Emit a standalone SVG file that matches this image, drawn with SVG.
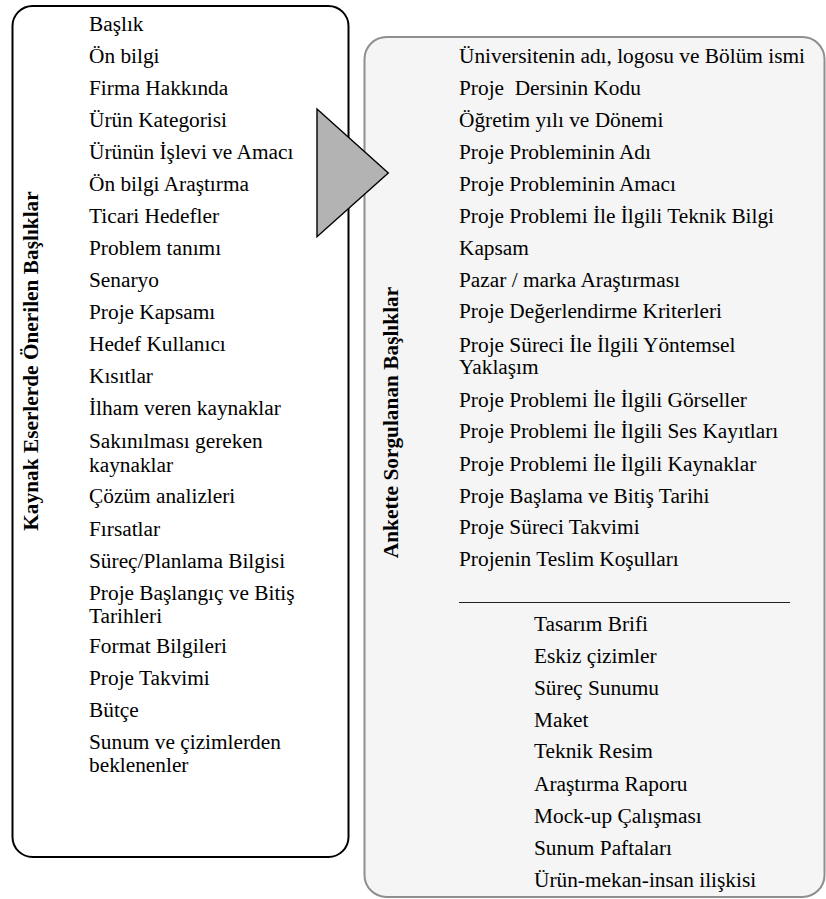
<svg xmlns="http://www.w3.org/2000/svg" width="826" height="899" viewBox="0 0 826 899" font-family="'Times New Roman', 'Liberation Serif', serif" font-size="21.33">
<style>
  text { font-family: "Times New Roman", "Liberation Serif", serif; font-size: 21.33px; fill: #000; }
  .lbl { font-weight: bold; text-anchor: middle; }
  .boxL { fill: #ffffff; stroke: #000; stroke-width: 2; }
  .boxR { fill: #f5f5f5; stroke: #8f8f8f; stroke-width: 2; }
  .arrow { fill: #b3b3b3; stroke: #000; stroke-width: 1.4; stroke-linejoin: miter; }
</style>
<rect width="826" height="899" fill="#ffffff"/>

<g id="node-left">
  <rect class="boxL" x="12.5" y="6" width="336" height="851" rx="20" ry="20"/>
  <text class="lbl" transform="translate(37.5,361) rotate(-90)">Kaynak Eserlerde Önerilen Başlıklar</text>
  <text x="89" y="31">Başlık</text>
  <text x="89" y="63">Ön bilgi</text>
  <text x="89" y="95">Firma Hakkında</text>
  <text x="89" y="127">Ürün Kategorisi</text>
  <text x="89" y="159">Ürünün İşlevi ve Amacı</text>
  <text x="89" y="191">Ön bilgi Araştırma</text>
  <text x="89" y="223">Ticari Hedefler</text>
  <text x="89" y="255">Problem tanımı</text>
  <text x="89" y="287">Senaryo</text>
  <text x="89" y="319">Proje Kapsamı</text>
  <text x="89" y="351">Hedef Kullanıcı</text>
  <text x="89" y="383">Kısıtlar</text>
  <text x="89" y="415">İlham veren kaynaklar</text>
  <text x="89" y="447.5">Sakınılması gereken</text>
  <text x="89" y="471.5">kaynaklar</text>
  <text x="89" y="503.3">Çözüm analizleri</text>
  <text x="89" y="535.5">Fırsatlar</text>
  <text x="89" y="567.5">Süreç/Planlama Bilgisi</text>
  <text x="89" y="599.5">Proje Başlangıç ve Bitiş</text>
  <text x="89" y="622.5">Tarihleri</text>
  <text x="89" y="653.3">Format Bilgileri</text>
  <text x="89" y="685">Proje Takvimi</text>
  <text x="89" y="717">Bütçe</text>
  <text x="89" y="748.5">Sunum ve çizimlerden</text>
  <text x="89" y="772">beklenenler</text>
</g>

<g id="node-right">
  <rect class="boxR" x="364.5" y="37" width="460" height="860" rx="22" ry="22"/>
  <text class="lbl" transform="translate(398,422.5) rotate(-90)">Ankette Sorgulanan Başlıklar</text>
  <text x="459" y="62.7">Üniversitenin adı, logosu ve Bölüm ismi</text>
  <text x="459" y="95">Proje&#160; Dersinin Kodu</text>
  <text x="459" y="126.7">Öğretim yılı ve Dönemi</text>
  <text x="459" y="159">Proje Probleminin Adı</text>
  <text x="459" y="191">Proje Probleminin Amacı</text>
  <text x="459" y="222.7">Proje Problemi İle İlgili Teknik Bilgi</text>
  <text x="459" y="255">Kapsam</text>
  <text x="459" y="286.7">Pazar / marka Araştırması</text>
  <text x="459" y="318.3">Proje Değerlendirme Kriterleri</text>
  <text x="459" y="351.7">Proje Süreci İle İlgili Yöntemsel</text>
  <text x="459" y="374.3">Yaklaşım</text>
  <text x="459" y="406.7">Proje Problemi İle İlgili Görseller</text>
  <text x="459" y="438.3">Proje Problemi İle İlgili Ses Kayıtları</text>
  <text x="459" y="470.7">Proje Problemi İle İlgili Kaynaklar</text>
  <text x="459" y="502.7">Proje Başlama ve Bitiş Tarihi</text>
  <text x="459" y="534.3">Proje Süreci Takvimi</text>
  <text x="459" y="566">Projenin Teslim Koşulları</text>
  <line x1="459" y1="602.5" x2="790" y2="602.5" stroke="#222" stroke-width="1"/>
  <text x="534" y="631">Tasarım Brifi</text>
  <text x="534" y="662.7">Eskiz çizimler</text>
  <text x="534" y="695">Süreç Sunumu</text>
  <text x="534" y="726.7">Maket</text>
  <text x="534" y="758.3">Teknik Resim</text>
  <text x="534" y="790.7">Araştırma Raporu</text>
  <text x="534" y="822.7">Mock-up Çalışması</text>
  <text x="534" y="855">Sunum Paftaları</text>
  <text x="534" y="886.7">Ürün-mekan-insan ilişkisi</text>
</g>

<g id="connectors">
  <polygon class="arrow" points="317,109 388.3,173 317,236.7"/>
</g>
</svg>
